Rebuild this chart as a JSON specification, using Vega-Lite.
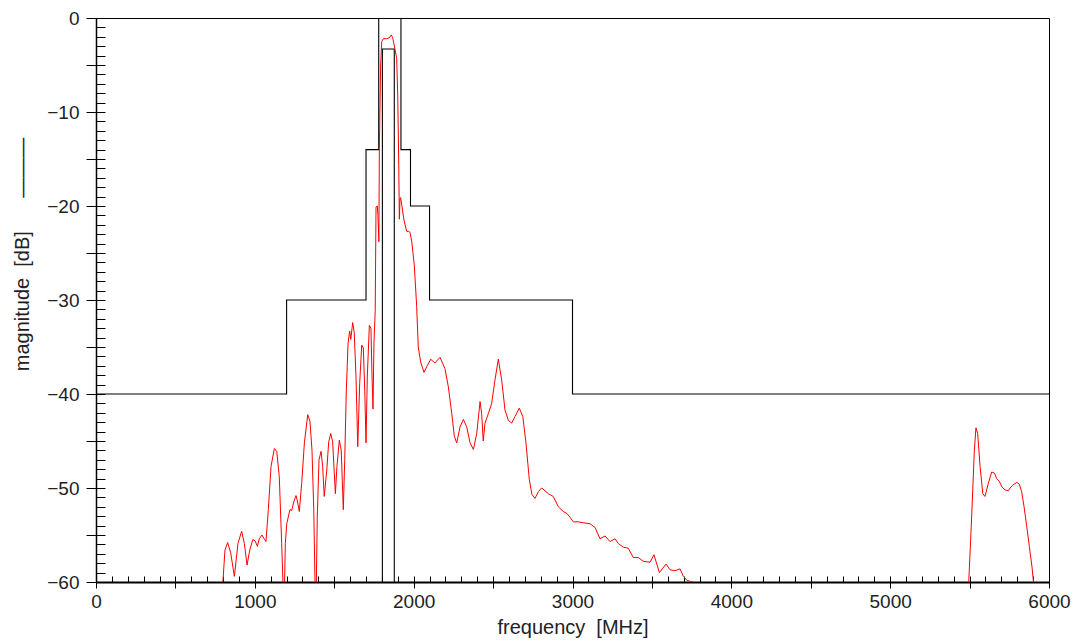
{
  "$schema": "https://vega.github.io/schema/vega-lite/v6.json",
  "width": 953,
  "height": 564,
  "autosize": "none",
  "padding": {"left": 96, "top": 18, "right": 28, "bottom": 60},
  "background": "white",
  "config": {
    "view": {"stroke": "black", "strokeWidth": 1},
    "axis": {"labelFont": "Liberation Sans", "titleFont": "Liberation Sans", "labelColor": "#222", "titleColor": "#222", "tickColor": "black", "domainColor": "black", "grid": false, "titleFontWeight": "normal", "labelFlush": false, "labelOverlap": false}
  },
  "datasets": {
    "mask": [
      {"f": 0, "db": -40, "s": "outer", "o": 1},
      {"f": 1200, "db": -40, "s": "outer", "o": 2},
      {"f": 1200, "db": -30, "s": "outer", "o": 3},
      {"f": 1700, "db": -30, "s": "outer", "o": 4},
      {"f": 1700, "db": -14, "s": "outer", "o": 5},
      {"f": 1780, "db": -14, "s": "outer", "o": 6},
      {"f": 1780, "db": 0, "s": "outer", "o": 7},
      {"f": 1920, "db": 0, "s": "outer", "o": 8},
      {"f": 1920, "db": -14, "s": "outer", "o": 9},
      {"f": 1980, "db": -14, "s": "outer", "o": 10},
      {"f": 1980, "db": -20, "s": "outer", "o": 11},
      {"f": 2100, "db": -20, "s": "outer", "o": 12},
      {"f": 2100, "db": -30, "s": "outer", "o": 13},
      {"f": 3000, "db": -30, "s": "outer", "o": 14},
      {"f": 3000, "db": -40, "s": "outer", "o": 15},
      {"f": 6000, "db": -40, "s": "outer", "o": 16},
      {"f": 1803, "db": -60, "s": "inner", "o": 1},
      {"f": 1803, "db": -3.3, "s": "inner", "o": 2},
      {"f": 1878, "db": -3.3, "s": "inner", "o": 3},
      {"f": 1878, "db": -60, "s": "inner", "o": 4}
    ],
    "resp": [
      {"f": 795, "db": -61, "seg": "a"},
      {"f": 812, "db": -56.6, "seg": "a"},
      {"f": 829, "db": -55.8, "seg": "a"},
      {"f": 848, "db": -56.9, "seg": "a"},
      {"f": 871, "db": -59.4, "seg": "a"},
      {"f": 894, "db": -55.9, "seg": "a"},
      {"f": 917, "db": -54.6, "seg": "a"},
      {"f": 934, "db": -55.9, "seg": "a"},
      {"f": 951, "db": -58.2, "seg": "a"},
      {"f": 968, "db": -56.6, "seg": "a"},
      {"f": 987, "db": -55.5, "seg": "a"},
      {"f": 1001, "db": -55.6, "seg": "a"},
      {"f": 1016, "db": -56.2, "seg": "a"},
      {"f": 1028, "db": -55.4, "seg": "a"},
      {"f": 1045, "db": -55.0, "seg": "a"},
      {"f": 1062, "db": -55.5, "seg": "a"},
      {"f": 1070, "db": -55.7, "seg": "a"},
      {"f": 1085, "db": -52.3, "seg": "a"},
      {"f": 1102, "db": -47.7, "seg": "a"},
      {"f": 1123, "db": -45.8, "seg": "a"},
      {"f": 1138, "db": -46.1, "seg": "a"},
      {"f": 1154, "db": -48.8, "seg": "a"},
      {"f": 1169, "db": -55.9, "seg": "a"},
      {"f": 1177, "db": -60.1, "seg": "a"},
      {"f": 1184, "db": -63, "seg": "a"},
      {"f": 1192, "db": -55.9, "seg": "a"},
      {"f": 1201, "db": -53.8, "seg": "a"},
      {"f": 1221, "db": -52.3, "seg": "a"},
      {"f": 1232, "db": -52.4, "seg": "a"},
      {"f": 1245, "db": -51.5, "seg": "a"},
      {"f": 1259, "db": -50.8, "seg": "a"},
      {"f": 1267, "db": -51.3, "seg": "a"},
      {"f": 1280, "db": -52.5, "seg": "a"},
      {"f": 1295, "db": -49.5, "seg": "a"},
      {"f": 1312, "db": -45.2, "seg": "a"},
      {"f": 1333, "db": -42.2, "seg": "a"},
      {"f": 1347, "db": -42.9, "seg": "a"},
      {"f": 1360, "db": -46.0, "seg": "a"},
      {"f": 1371, "db": -52.3, "seg": "a"},
      {"f": 1379, "db": -60.1, "seg": "a"},
      {"f": 1385, "db": -63, "seg": "a"},
      {"f": 1393, "db": -53.1, "seg": "a"},
      {"f": 1404, "db": -47.0, "seg": "a"},
      {"f": 1417, "db": -46.1, "seg": "a"},
      {"f": 1427, "db": -47.7, "seg": "a"},
      {"f": 1437, "db": -50.9, "seg": "a"},
      {"f": 1453, "db": -48.1, "seg": "a"},
      {"f": 1465, "db": -45.1, "seg": "a"},
      {"f": 1478, "db": -44.2, "seg": "a"},
      {"f": 1490, "db": -45.1, "seg": "a"},
      {"f": 1498, "db": -47.7, "seg": "a"},
      {"f": 1507, "db": -50.6, "seg": "a"},
      {"f": 1517, "db": -47.7, "seg": "a"},
      {"f": 1532, "db": -44.9, "seg": "a"},
      {"f": 1544, "db": -46.0, "seg": "a"},
      {"f": 1557, "db": -52.3, "seg": "a"},
      {"f": 1566, "db": -47.0, "seg": "a"},
      {"f": 1576, "db": -39.6, "seg": "a"},
      {"f": 1587, "db": -34.6, "seg": "a"},
      {"f": 1597, "db": -33.3, "seg": "a"},
      {"f": 1604, "db": -34.2, "seg": "a"},
      {"f": 1616, "db": -32.4, "seg": "a"},
      {"f": 1626, "db": -33.5, "seg": "a"},
      {"f": 1637, "db": -38.2, "seg": "a"},
      {"f": 1648, "db": -45.6, "seg": "a"},
      {"f": 1660, "db": -38.9, "seg": "a"},
      {"f": 1673, "db": -34.8, "seg": "a"},
      {"f": 1683, "db": -35.1, "seg": "a"},
      {"f": 1692, "db": -39.6, "seg": "a"},
      {"f": 1700, "db": -45.2, "seg": "a"},
      {"f": 1708, "db": -38.2, "seg": "a"},
      {"f": 1721, "db": -32.7, "seg": "a"},
      {"f": 1731, "db": -33.0, "seg": "a"},
      {"f": 1738, "db": -38.2, "seg": "a"},
      {"f": 1744, "db": -41.6, "seg": "a"},
      {"f": 1750, "db": -34.6, "seg": "a"},
      {"f": 1758, "db": -31.1, "seg": "a"},
      {"f": 1763, "db": -20.1, "seg": "a"},
      {"f": 1771, "db": -20.0, "seg": "a"},
      {"f": 1775, "db": -21.0, "seg": "a"},
      {"f": 1781, "db": -23.8, "seg": "a"},
      {"f": 1784, "db": -13.9, "seg": "a"},
      {"f": 1792, "db": -5.0, "seg": "a"},
      {"f": 1799, "db": -2.5, "seg": "a"},
      {"f": 1809, "db": -2.2, "seg": "a"},
      {"f": 1830, "db": -2.2, "seg": "a"},
      {"f": 1847, "db": -2.1, "seg": "a"},
      {"f": 1859, "db": -1.8, "seg": "a"},
      {"f": 1868, "db": -2.1, "seg": "a"},
      {"f": 1881, "db": -3.2, "seg": "a"},
      {"f": 1893, "db": -4.3, "seg": "a"},
      {"f": 1900, "db": -8.5, "seg": "a"},
      {"f": 1906, "db": -15.6, "seg": "a"},
      {"f": 1910, "db": -21.4, "seg": "a"},
      {"f": 1914, "db": -19.2, "seg": "a"},
      {"f": 1918, "db": -19.1, "seg": "a"},
      {"f": 1927, "db": -20.1, "seg": "a"},
      {"f": 1939, "db": -21.5, "seg": "a"},
      {"f": 1956, "db": -22.7, "seg": "a"},
      {"f": 1969, "db": -22.7, "seg": "a"},
      {"f": 1977, "db": -22.8, "seg": "a"},
      {"f": 1988, "db": -23.8, "seg": "a"},
      {"f": 2004, "db": -26.3, "seg": "a"},
      {"f": 2019, "db": -30.7, "seg": "a"},
      {"f": 2029, "db": -35.0, "seg": "a"},
      {"f": 2044, "db": -36.6, "seg": "a"},
      {"f": 2065, "db": -37.7, "seg": "a"},
      {"f": 2082, "db": -37.1, "seg": "a"},
      {"f": 2107, "db": -36.3, "seg": "a"},
      {"f": 2134, "db": -36.7, "seg": "a"},
      {"f": 2166, "db": -36.1, "seg": "a"},
      {"f": 2197, "db": -37.3, "seg": "a"},
      {"f": 2218, "db": -39.2, "seg": "a"},
      {"f": 2240, "db": -42.1, "seg": "a"},
      {"f": 2256, "db": -44.5, "seg": "a"},
      {"f": 2271, "db": -45.2, "seg": "a"},
      {"f": 2292, "db": -43.5, "seg": "a"},
      {"f": 2313, "db": -42.7, "seg": "a"},
      {"f": 2334, "db": -43.5, "seg": "a"},
      {"f": 2355, "db": -45.2, "seg": "a"},
      {"f": 2376, "db": -45.9, "seg": "a"},
      {"f": 2397, "db": -44.2, "seg": "a"},
      {"f": 2418, "db": -40.8, "seg": "a"},
      {"f": 2428, "db": -42.1, "seg": "a"},
      {"f": 2438, "db": -45.0, "seg": "a"},
      {"f": 2449, "db": -43.1, "seg": "a"},
      {"f": 2470, "db": -42.1, "seg": "a"},
      {"f": 2491, "db": -41.0, "seg": "a"},
      {"f": 2512, "db": -38.5, "seg": "a"},
      {"f": 2533, "db": -36.3, "seg": "a"},
      {"f": 2554, "db": -38.5, "seg": "a"},
      {"f": 2575, "db": -41.7, "seg": "a"},
      {"f": 2596, "db": -42.8, "seg": "a"},
      {"f": 2617, "db": -43.1, "seg": "a"},
      {"f": 2638, "db": -42.4, "seg": "a"},
      {"f": 2665, "db": -41.5, "seg": "a"},
      {"f": 2687, "db": -42.4, "seg": "a"},
      {"f": 2707, "db": -45.2, "seg": "a"},
      {"f": 2728, "db": -49.1, "seg": "a"},
      {"f": 2745, "db": -50.7, "seg": "a"},
      {"f": 2764, "db": -51.1, "seg": "a"},
      {"f": 2785, "db": -50.4, "seg": "a"},
      {"f": 2806, "db": -50.0, "seg": "a"},
      {"f": 2827, "db": -50.3, "seg": "a"},
      {"f": 2848, "db": -50.6, "seg": "a"},
      {"f": 2879, "db": -50.9, "seg": "a"},
      {"f": 2911, "db": -52.0, "seg": "a"},
      {"f": 2942, "db": -52.5, "seg": "a"},
      {"f": 2964, "db": -52.7, "seg": "a"},
      {"f": 2984, "db": -53.1, "seg": "a"},
      {"f": 3005, "db": -53.6, "seg": "a"},
      {"f": 3037, "db": -53.6, "seg": "a"},
      {"f": 3068, "db": -53.7, "seg": "a"},
      {"f": 3110, "db": -53.8, "seg": "a"},
      {"f": 3142, "db": -54.2, "seg": "a"},
      {"f": 3173, "db": -55.4, "seg": "a"},
      {"f": 3205, "db": -55.1, "seg": "a"},
      {"f": 3236, "db": -55.7, "seg": "a"},
      {"f": 3268, "db": -55.4, "seg": "a"},
      {"f": 3288, "db": -55.9, "seg": "a"},
      {"f": 3320, "db": -56.3, "seg": "a"},
      {"f": 3351, "db": -56.4, "seg": "a"},
      {"f": 3383, "db": -57.4, "seg": "a"},
      {"f": 3414, "db": -57.4, "seg": "a"},
      {"f": 3446, "db": -57.8, "seg": "a"},
      {"f": 3488, "db": -57.9, "seg": "a"},
      {"f": 3513, "db": -57.1, "seg": "a"},
      {"f": 3547, "db": -59.0, "seg": "a"},
      {"f": 3589, "db": -58.1, "seg": "a"},
      {"f": 3614, "db": -58.7, "seg": "a"},
      {"f": 3645, "db": -58.8, "seg": "a"},
      {"f": 3677, "db": -58.6, "seg": "a"},
      {"f": 3698, "db": -59.4, "seg": "a"},
      {"f": 3719, "db": -59.8, "seg": "a"},
      {"f": 3751, "db": -60.0, "seg": "a"},
      {"f": 3782, "db": -60.1, "seg": "a"},
      {"f": 3800, "db": -62, "seg": "a"},
      {"f": 5492, "db": -61, "seg": "b"},
      {"f": 5513, "db": -53.1, "seg": "b"},
      {"f": 5530, "db": -46.0, "seg": "b"},
      {"f": 5540, "db": -43.6, "seg": "b"},
      {"f": 5551, "db": -44.2, "seg": "b"},
      {"f": 5566, "db": -47.7, "seg": "b"},
      {"f": 5583, "db": -50.6, "seg": "b"},
      {"f": 5597, "db": -50.9, "seg": "b"},
      {"f": 5618, "db": -49.5, "seg": "b"},
      {"f": 5639, "db": -48.3, "seg": "b"},
      {"f": 5656, "db": -48.4, "seg": "b"},
      {"f": 5671, "db": -49.0, "seg": "b"},
      {"f": 5687, "db": -49.3, "seg": "b"},
      {"f": 5704, "db": -49.9, "seg": "b"},
      {"f": 5723, "db": -50.2, "seg": "b"},
      {"f": 5744, "db": -50.3, "seg": "b"},
      {"f": 5755, "db": -50.0, "seg": "b"},
      {"f": 5772, "db": -49.7, "seg": "b"},
      {"f": 5797, "db": -49.4, "seg": "b"},
      {"f": 5813, "db": -49.6, "seg": "b"},
      {"f": 5828, "db": -50.4, "seg": "b"},
      {"f": 5843, "db": -52.0, "seg": "b"},
      {"f": 5860, "db": -54.1, "seg": "b"},
      {"f": 5876, "db": -56.2, "seg": "b"},
      {"f": 5893, "db": -58.4, "seg": "b"},
      {"f": 5908, "db": -61, "seg": "b"}
    ]
  },
  "resolve": {"axis": {"x": "independent", "y": "independent"}},
  "layer": [
    {
      "data": {"name": "mask"},
      "mark": {"type": "line", "color": "black", "strokeWidth": 1.1, "clip": true},
      "encoding": {
        "x": {"field": "f", "type": "quantitative", "scale": {"domain": [0, 6000], "nice": false, "zero": false},
          "axis": {"orient": "bottom", "values": [0,100,200,300,400,500,600,700,800,900,1000,1100,1200,1300,1400,1500,1600,1700,1800,1900,2000,2100,2200,2300,2400,2500,2600,2700,2800,2900,3000,3100,3200,3300,3400,3500,3600,3700,3800,3900,4000,4100,4200,4300,4400,4500,4600,4700,4800,4900,5000,5100,5200,5300,5400,5500,5600,5700,5800,5900,6000],
            "tickSize": -6, "labels": false, "title": null, "domainWidth": 2}},
        "y": {"field": "db", "type": "quantitative", "scale": {"domain": [-60, 0], "nice": false, "zero": false},
          "axis": {"orient": "left", "values": [-60,-59,-58,-57,-56,-55,-54,-53,-52,-51,-50,-49,-48,-47,-46,-45,-44,-43,-42,-41,-40,-39,-38,-37,-36,-35,-34,-33,-32,-31,-30,-29,-28,-27,-26,-25,-24,-23,-22,-21,-20,-19,-18,-17,-16,-15,-14,-13,-12,-11,-10,-9,-8,-7,-6,-5,-4,-3,-2,-1,0],
            "tickSize": -9, "labels": false, "title": null, "domainWidth": 1.5}},
        "detail": {"field": "s", "type": "nominal"},
        "order": {"field": "o", "type": "quantitative"}
      }
    },
    {
      "data": {"name": "resp"},
      "mark": {"type": "line", "color": "#ff0000", "strokeWidth": 1, "clip": true},
      "encoding": {
        "x": {"field": "f", "type": "quantitative", "scale": {"domain": [0, 6000], "nice": false, "zero": false},
          "axis": {"orient": "bottom", "values": [0,500,1000,1500,2000,2500,3000,3500,4000,4500,5000,5500,6000],
            "tickSize": 6, "domain": false, "labelExpr": "datum.value % 1000 === 0 ? datum.label : ''", "format": "d",
            "labelFontSize": 19, "labelPadding": 4,
            "title": "frequency\u00a0\u00a0[MHz]", "titleFontSize": 20, "titlePadding": 6}},
        "y": {"field": "db", "type": "quantitative", "scale": {"domain": [-60, 0], "nice": false, "zero": false},
          "axis": {"orient": "left", "values": [-60,-55,-50,-45,-40,-35,-30,-25,-20,-15,-10,-5,0],
            "tickSize": 10, "domain": false, "labelExpr": "datum.value % 10 === 0 ? datum.label : ''",
            "labelFontSize": 19, "labelPadding": 7,
            "title": "magnitude\u00a0\u00a0[dB]\u00a0\u00a0\u00a0\u00a0\u00a0\u00a0———", "titleFontSize": 20,
            "titleX": -64, "titleY": 236, "titleBaseline": "bottom", "titleAlign": "center", "titleAngle": -90}},
        "detail": {"field": "seg", "type": "nominal"}
      }
    }
  ]
}
